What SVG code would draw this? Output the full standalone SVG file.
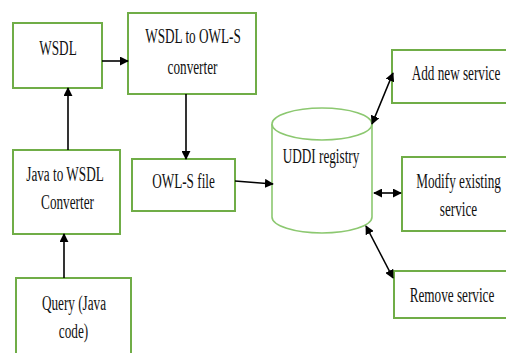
<svg xmlns="http://www.w3.org/2000/svg" width="506" height="353" viewBox="0 0 506 353">
<defs>
<style>
.box{fill:#fff;stroke:#70AD47;stroke-width:2}
.cyl{fill:#fff;stroke:#8CC870;stroke-width:1.6}
.t{font-family:"Liberation Serif","Times New Roman",serif;font-size:20px;fill:#111;text-anchor:middle}
.c{stroke:#000;stroke-width:1.6;fill:none}
</style>
<marker id="ah" viewBox="0 0 10 10" refX="9" refY="5" markerWidth="9" markerHeight="9" markerUnits="userSpaceOnUse" orient="auto-start-reverse">
<path d="M0,0 L10,5 L0,10 z" fill="#000"/>
</marker>
</defs>
<rect width="506" height="353" fill="#fff"/>
<g id="wsdl"><rect class="box" x="13" y="23" width="89" height="65"/><text class="t" transform="translate(58,55) scale(0.66,1)">WSDL</text></g>
<g id="converter"><rect class="box" x="128" y="13" width="128" height="81"/><text class="t" transform="translate(193,43) scale(0.66,1)">WSDL to OWL-S</text><text class="t" transform="translate(192.5,74) scale(0.66,1)">converter</text></g>
<g id="java2wsdl"><rect class="box" x="13" y="150" width="107" height="84"/><text class="t" transform="translate(65,181) scale(0.66,1)">Java to WSDL</text><text class="t" transform="translate(67.5,209) scale(0.66,1)">Converter</text></g>
<g id="owls"><rect class="box" x="132" y="159" width="103" height="52"/><text class="t" transform="translate(183.5,188) scale(0.66,1)">OWL-S file</text></g>
<g id="query"><rect class="box" x="16" y="278" width="115" height="80"/><text class="t" transform="translate(74,310) scale(0.66,1)">Query (Java</text><text class="t" transform="translate(73.5,338) scale(0.66,1)">code)</text></g>
<g id="uddi"><path class="cyl" d="M272,124 L272,217 A50,16 0 0 0 372,217 L372,124"/><ellipse class="cyl" cx="322" cy="124" rx="50" ry="16"/><text class="t" transform="translate(321,163) scale(0.66,1)">UDDI registry</text></g>
<g id="add"><rect class="box" x="392" y="50" width="120" height="53"/><text class="t" transform="translate(456,80) scale(0.66,1)">Add new service</text></g>
<g id="modify"><rect class="box" x="402" y="157" width="110" height="74"/><text class="t" transform="translate(458.5,188) scale(0.66,1)">Modify existing</text><text class="t" transform="translate(458.5,216) scale(0.66,1)">service</text></g>
<g id="remove"><rect class="box" x="394" y="271" width="118" height="47"/><text class="t" transform="translate(452,302) scale(0.66,1)">Remove service</text></g>
<g id="connectors">
<line class="c" x1="102" y1="61" x2="128" y2="61" marker-end="url(#ah)"/>
<line class="c" x1="68" y1="150" x2="68" y2="88" marker-end="url(#ah)"/>
<line class="c" x1="186" y1="94" x2="186" y2="159" marker-end="url(#ah)"/>
<line class="c" x1="235" y1="181" x2="273" y2="184" marker-end="url(#ah)"/>
<line class="c" x1="64" y1="278" x2="64" y2="234" marker-end="url(#ah)"/>
<line class="c" x1="372" y1="124" x2="393" y2="73" marker-start="url(#ah)" marker-end="url(#ah)"/>
<line class="c" x1="374" y1="193" x2="401" y2="193" marker-start="url(#ah)" marker-end="url(#ah)"/>
<line class="c" x1="366" y1="226" x2="393" y2="278" marker-start="url(#ah)" marker-end="url(#ah)"/>
</g>
</svg>
